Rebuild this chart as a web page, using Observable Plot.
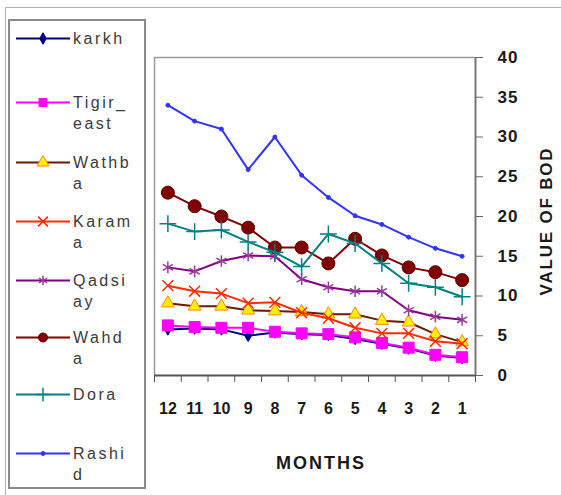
<!DOCTYPE html>
<html>
<head>
<meta charset="utf-8">
<script src="https://cdn.jsdelivr.net/npm/d3@7"></script>
<script src="https://cdn.jsdelivr.net/npm/@observablehq/plot@0.6"></script>
<style>
html,body{margin:0;padding:0;background:#fff;}
#wrap{position:relative;width:561px;height:495px;overflow:hidden;font-family:"Liberation Sans",Arial,sans-serif;background:#fff;}
#wrap svg.chart{position:absolute;left:0;top:0;}
#wrap svg.chart text{font-family:"Liberation Sans",Arial,sans-serif;font-weight:bold;font-size:16px;fill:#1a1a1a;}
#wrap svg.chart g.yax text{font-size:17px;letter-spacing:1px;}
.outer{position:absolute;left:5px;top:7px;width:600px;height:600px;border:1.5px solid #b0b0b0;}
.legend{position:absolute;left:8px;top:19px;width:134px;height:466px;border:2px solid #8a8a8a;background:#fff;}
.lg-item{position:absolute;left:0;}
.lg-item svg{position:absolute;left:6px;top:0;}
.lg-text{position:absolute;left:63px;top:0;font-size:16px;line-height:21px;letter-spacing:2.5px;color:#3a3a3a;white-space:nowrap;}
.xtitle{position:absolute;left:221px;width:200px;top:453px;text-align:center;font-weight:bold;font-size:18px;letter-spacing:2px;color:#1a1a1a;}
.ytitle{position:absolute;left:447px;width:200px;top:211px;text-align:center;font-weight:bold;font-size:17px;letter-spacing:1.8px;color:#1a1a1a;transform:rotate(-90deg);transform-origin:100px 10px;line-height:20px;}
</style>
</head>
<body>
<div id="wrap"></div>
<script>
// ---- data ----
const months = [12, 11, 10, 9, 8, 7, 6, 5, 4, 3, 2, 1];
const yTicks = [0, 5, 10, 15, 20, 25, 30, 35, 40];
const seriesNames = ["karkh", "Tigir_east", "Wathba", "Karama", "Qadsiay", "Wahda", "Dora", "Rashid"];
const legendLines = [["karkh"], ["Tigir_", "east"], ["Wathb", "a"], ["Karam", "a"], ["Qadsi", "ay"], ["Wahd", "a"], ["Dora"], ["Rashi", "d"]];
const karkh     = [5.8, 5.9, 5.8, 5.0, 5.4, 5.2, 5.1, 4.6, 4.0, 3.4, 2.5, 2.2];
const tigirEast = [6.3, 6.1, 6.0, 6.0, 5.5, 5.3, 5.2, 4.8, 4.1, 3.5, 2.6, 2.3];
const wathba    = [9.1, 8.7, 8.7, 8.2, 8.1, 8.0, 7.7, 7.7, 6.9, 6.7, 5.2, 4.2];
const karama    = [11.3, 10.6, 10.3, 9.1, 9.2, 7.9, 7.2, 6.0, 5.3, 5.3, 4.3, 4.0];
const qadsiay   = [13.6, 13.1, 14.4, 15.1, 15.0, 12.1, 11.1, 10.6, 10.6, 8.2, 7.4, 7.0];
const wahda     = [23.0, 21.3, 20.0, 18.6, 16.1, 16.1, 14.1, 17.2, 15.1, 13.6, 13.0, 12.0];
const dora      = [19.1, 18.1, 18.3, 16.8, 15.5, 13.7, 17.8, 16.6, 14.1, 11.6, 11.1, 9.9];
const rashid    = [34.0, 32.0, 31.0, 25.9, 30.0, 25.2, 22.4, 20.1, 19.0, 17.4, 16.0, 15.0];
const seriesValues = [karkh, tigirEast, wathba, karama, qadsiay, wahda, dora, rashid];

// ---- styles ----
const styles = [
  {line: "#000080", symbol: "diamond", r: 3.5, fill: "#000080", stroke: "#000080"},
  {line: "#ff00ff", symbol: "square", r: 6.2, fill: "#ff00ff", stroke: "#ff00ff"},
  {line: "#6a1a00", symbol: "triangle", r: 4.8, fill: "#ffee00", stroke: "#ff8c00"},
  {line: "#ff2a00", symbol: "times", r: 5, fill: "none", stroke: "#ff2a00"},
  {line: "#800080", symbol: "asterisk", r: 5.5, fill: "none", stroke: "#9a3a9a"},
  {line: "#800000", symbol: "circle", r: 6.5, fill: "#800000", stroke: "#5a0000"},
  {line: "#008080", symbol: "plus", r: 5.5, fill: "none", stroke: "#008080"},
  {line: "#3333ff", symbol: "circle", r: 2, fill: "#3333ff", stroke: "#3333ff"}
];
const legendY = [38, 102, 162, 221, 280, 337, 394, 453];

const rows = seriesNames.flatMap((name, i) =>
  months.map((m, j) => ({series: name, month: m, value: seriesValues[i][j]})));
const boundaries = months.map(m => m + 0.5).concat([0.5]);

const marks = [
  Plot.ruleY([40], {stroke: "#9a9a9a", strokeWidth: 1.5}),
  Plot.ruleX([12.5], {stroke: "#9a9a9a", strokeWidth: 1.5})
];
seriesNames.forEach((name, i) => {
  const s = styles[i];
  const d = rows.filter(r => r.series === name);
  marks.push(Plot.line(d, {x: "month", y: "value", stroke: s.line, strokeWidth: 2}));
  marks.push(Plot.dot(d, {x: "month", y: "value", symbol: () => s.symbol, r: s.r,
    fill: s.fill, stroke: s.stroke, strokeWidth: s.fill === "none" ? 1.5 : 1}));
});
marks.push(
  Plot.ruleY([0], {stroke: "#555", strokeWidth: 2}),
  Plot.ruleX([0.5], {stroke: "#777", strokeWidth: 2}),
  Plot.axisX({ticks: boundaries, tickSize: 7, tickFormat: () => "", label: null, stroke: "#555"}),
  Plot.axisX({ticks: months, tickSize: 0, tickPadding: 27, tickFormat: d => String(d), label: null}),
  Plot.axisY({anchor: "right", ticks: yTicks, tickSize: 7, tickPadding: 15, label: null, stroke: "#666", className: "yax"})
);

const chart = Plot.plot({
  width: 561,
  height: 495,
  marginLeft: 154,
  marginRight: 86,
  marginTop: 57,
  marginBottom: 120,
  x: {type: "linear", domain: [12.5, 0.5]},
  y: {domain: [0, 40]},
  style: {background: "transparent", overflow: "visible"},
  marks
});
chart.classList.add("chart");
const yax = chart.querySelectorAll("g[aria-label='y-axis tick label']");
yax.forEach(g => g.classList.add("yax"));

const wrap = document.getElementById("wrap");
const outer = document.createElement("div");
outer.className = "outer";
wrap.appendChild(outer);
wrap.appendChild(chart);

// legend
const legend = document.createElement("div");
legend.className = "legend";
wrap.appendChild(legend);
const symMap = {diamond: d3.symbolDiamond, square: d3.symbolSquare, triangle: d3.symbolTriangle,
  times: d3.symbolTimes, asterisk: d3.symbolAsterisk, circle: d3.symbolCircle, plus: d3.symbolPlus};
seriesNames.forEach((name, i) => {
  const s = styles[i];
  const item = document.createElement("div");
  item.className = "lg-item";
  item.style.top = (legendY[i] - 10.5 - 21) + "px";
  const svg = d3.create("svg").attr("width", 56).attr("height", 21);
  svg.append("line").attr("x1", 0).attr("x2", 54).attr("y1", 10.5).attr("y2", 10.5)
    .attr("stroke", s.line).attr("stroke-width", 2);
  const rr = Math.min(s.r, 4.5);
  svg.append("path").attr("transform", "translate(27,10.5)")
    .attr("d", d3.symbol(symMap[s.symbol], Math.PI * rr * rr)())
    .attr("fill", s.fill).attr("stroke", s.stroke).attr("stroke-width", s.fill === "none" ? 1.5 : 1);
  item.appendChild(svg.node());
  const txt = document.createElement("div");
  txt.className = "lg-text";
  txt.innerHTML = legendLines[i].join("<br>");
  item.appendChild(txt);
  legend.appendChild(item);
});

const xt = document.createElement("div");
xt.className = "xtitle";
xt.textContent = "MONTHS";
wrap.appendChild(xt);
const yt = document.createElement("div");
yt.className = "ytitle";
yt.textContent = "VALUE OF BOD";
wrap.appendChild(yt);
</script>
</body>
</html>
